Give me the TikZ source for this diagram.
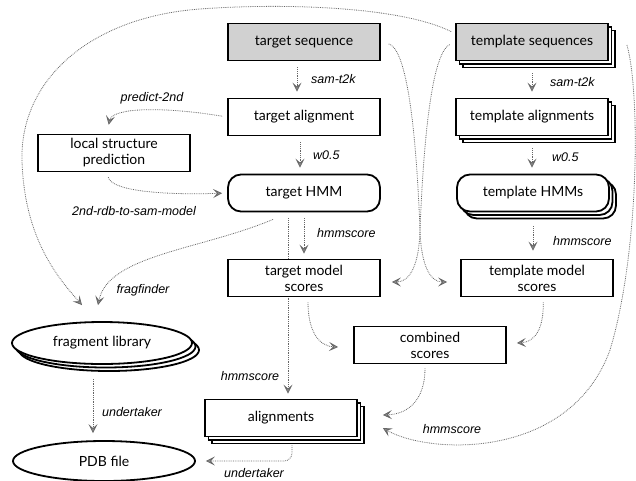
\documentclass[tikz,border=0pt]{standalone}
\usepackage{fontspec}
\setmainfont{Lato}
\newfontfamily\lblfont{Liberation Sans}
\usepackage{tikz}
\usetikzlibrary{arrows.meta,shapes.geometric,shadows,backgrounds}
\tikzset{
	box/.style={draw, line width=1.8pt, fill=white, minimum width=152pt, minimum height=37pt, align=center, inner sep=2pt, font=\fontsize{14}{16}\selectfont},
	seqbox/.style={box, fill=black!18},
	stack/.style={copy shadow={shadow xshift=7pt, shadow yshift=-7pt, fill=white}, copy shadow={shadow xshift=3.5pt, shadow yshift=-3.5pt, fill=white}},
	hmm/.style={box, rounded corners=13pt},
	disk/.style={box, ellipse, minimum width=180pt, minimum height=42pt},
	flow/.style={draw=black!60, densely dotted, line width=0.8pt, -{Stealth[length=9pt, width=9pt, inset=4pt, fill=black!45]}},
	lbl/.style={font=\lblfont\itshape\fontsize{12.5}{14}\selectfont, inner sep=1pt}
}

\begin{document}
\begin{tikzpicture}[x=1pt, y=-1pt]
	\useasboundingbox (0,0) rectangle (636,480);
	\node[seqbox] (tseq) at (304,42) {target sequence};
	\node[seqbox, stack] (pseq) at (532,42) {template sequences};
	\node[box] (taln) at (304,117) {target alignment};
	\node[box, stack] (paln) at (532,117) {template alignments};
	\node[box] (lsp) at (114,153) {local structure\\prediction};
	\node[hmm] (thmm) at (304,193) {target HMM};
	\node[hmm, stack] (phmm) at (533,193) {template HMMs};
	\node[box] (tms) at (304,278) {target model\\scores};
	\node[box] (pms) at (537,278) {template model\\scores};
	\node[box] (comb) at (430,345) {combined\\scores};
	\node[box, stack] (aln) at (281,418) {alignments};
	\node[disk, stack] (frag) at (102,343) {fragment library};
	\node[disk, minimum width=182pt, minimum height=40pt] (pdb) at (104,461) {PDB file};

	\begin{scope}[on background layer]
	\draw[flow, shorten <=6pt, shorten >=6pt] ([xshift=-7pt]tseq.south) -- ([xshift=-7pt]taln.north);
	\draw[flow, shorten <=6pt, shorten >=6pt] ([xshift=-4pt]taln.south) -- ([xshift=-4pt]thmm.north);
	\draw[flow, shorten <=6pt, shorten >=5pt] (thmm.south) -- (tms.north);
	\draw[flow, shorten <=6pt, shorten >=5pt] ([xshift=-16pt]thmm.south) -- ([xshift=7pt]aln.north);
	\draw[flow, shorten <=5pt, shorten >=9pt] (taln.west) .. controls (160,106) and (112,108) .. ([xshift=-7pt]lsp.north);
	\draw[flow, shorten <=5pt, shorten >=5pt] ([xshift=-7pt]lsp.south) .. controls (112,192) and (170,195) .. (thmm.west);
	\draw[flow] ([xshift=-31pt, yshift=-7pt]thmm.south) .. controls (200,250) and (108,255) .. ([xshift=-4pt, yshift=16pt]frag.north);
	\draw[flow] ([xshift=-4pt, yshift=-9pt]pseq.north west) .. controls (400,6) and (280,3) .. (200,9) .. controls (90,17) and (20,80) .. (22,160) .. controls (24,240) and (60,280) .. ([xshift=-20pt, yshift=16pt]frag.north);
	\draw[flow, shorten <=8pt] (tseq.east) .. controls (412,50) and (418,180) .. (420,230) .. controls (421,265) and (430,282) .. ([xshift=-13pt, yshift=-4pt]pms.west);
	\draw[flow, shorten <=6pt] (pseq.west) .. controls (428,55) and (422,180) .. (420,230) .. controls (419,265) and (410,282) .. ([xshift=11pt, yshift=-4pt]tms.east);
	\draw[flow, shorten <=12pt, shorten >=6pt] (pseq.south) -- (paln.north);
	\draw[flow, shorten <=12pt, shorten >=6pt] (paln.south) -- (paln.south |- phmm.north);
	\draw[flow, shorten <=14pt, shorten >=8pt] (phmm.south) -- (phmm.south |- pms.north);
	\draw[flow, shorten <=5pt] ([xshift=6pt]pms.south) .. controls (544,328) and (535,342) .. ([xshift=10pt, yshift=2pt]comb.east);
	\draw[flow, shorten <=5pt] ([xshift=4pt]tms.south) .. controls (308,330) and (318,346) .. ([xshift=-15pt, yshift=-2pt]comb.west);
	\draw[flow, shorten <=4pt] ([xshift=-5pt]comb.south) .. controls (425,398) and (410,414) .. ([xshift=25pt, yshift=3pt]aln.east);
	\draw[flow] ([xshift=18pt, yshift=-3pt]pseq.east) .. controls (640,90) and (640,250) .. (610,350) .. controls (570,460) and (430,455) .. ([xshift=25pt, yshift=-10pt]aln.east);
	\draw[flow, shorten <=14pt, shorten >=7pt] ([xshift=-9pt]frag.south) -- ([xshift=-11pt]pdb.north);
	\draw[flow, rounded corners=8pt, shorten <=8pt, shorten >=10pt] ([xshift=11pt]aln.south) |- (pdb.east);
	\end{scope}

	\node[lbl, anchor=west] (samt) at (310,79) {sam-t2k};
	\node[lbl, anchor=west] (wt) at (312,155) {w0.5};
	\node[lbl, anchor=west] (hst) at (316,233) {hmmscore};
	\node[lbl, anchor=west] (samp) at (549,82) {sam-t2k};
	\node[lbl, anchor=west] (wp) at (551,157) {w0.5};
	\node[lbl, anchor=west] (hsp) at (552,241) {hmmscore};
	\node[lbl] (pred) at (152,98) {predict-2nd};
	\node[lbl] (rdb) at (134,211) {2nd-rdb-to-sam-model};
	\node[lbl] (ff) at (143,290) {fragfinder};
	\node[lbl] (hsa) at (250,376) {hmmscore};
	\node[lbl] (utf) at (132,412) {undertaker};
	\node[lbl] (uta) at (254,473) {undertaker};
	\node[lbl] (hsb) at (452,429) {hmmscore};
\end{tikzpicture}
\end{document}
